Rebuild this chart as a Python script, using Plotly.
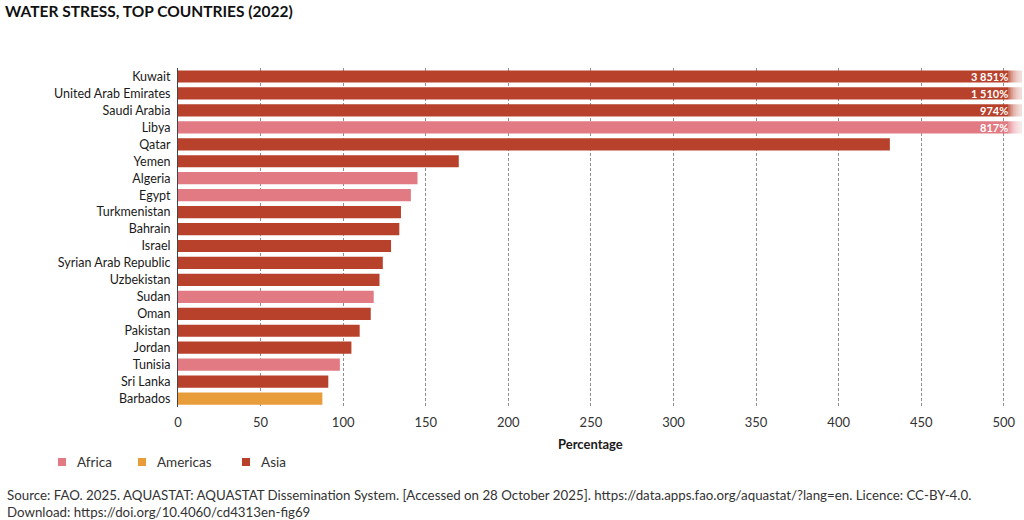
import plotly.graph_objects as go

# Data (values in %)
countries = ["Kuwait", "United Arab Emirates", "Saudi Arabia", "Libya", "Qatar", "Yemen",
             "Algeria", "Egypt", "Turkmenistan", "Bahrain", "Israel", "Syrian Arab Republic",
             "Uzbekistan", "Sudan", "Oman", "Pakistan", "Jordan", "Tunisia", "Sri Lanka", "Barbados"]
values = [3851, 1510, 974, 817, 431, 170, 145, 141, 135, 134, 129, 124,
          122, 118.5, 116.7, 110, 105, 98, 91, 87.4]
regions = ["Asia", "Asia", "Asia", "Africa", "Asia", "Asia", "Africa", "Africa", "Asia", "Asia",
           "Asia", "Asia", "Asia", "Africa", "Asia", "Asia", "Asia", "Africa", "Asia", "Americas"]
big_labels = ["3 851%", "1 510%", "974%", "817%"]
legend_names = ["Africa", "Americas", "Asia"]
ticks = [0, 50, 100, 150, 200, 250, 300, 350, 400, 450, 500]

colors = {"Africa": "#e17a82", "Americas": "#e99c3a", "Asia": "#b8412c"}
FONT = "Lato"

# plot area in pixels
L, R, T, B = 178, 1022, 68, 407
W, H = 1024, 520


def px(x):
    return (x - L) / (R - L)


def py(y):
    return (B - y) / (B - T)


fig = go.Figure()

for reg in legend_names:
    xs = [v for v, r in zip(values, regions) if r == reg]
    ys = [c for c, r in zip(countries, regions) if r == reg]
    fig.add_trace(go.Bar(
        x=xs, y=ys, orientation="h", name=reg,
        marker=dict(color=colors[reg], line=dict(width=0)),
        hoverinfo="x+y",
    ))

# value labels for the bars running off the scale
for c, lab in zip(countries[:4], big_labels):
    fig.add_annotation(x=504, y=c, text="<b>" + lab + "</b>", showarrow=False,
                       xanchor="right", font=dict(color="white", size=11, family=FONT))

# fade the bars out at the right edge
n = 8
for i in range(n):
    fig.add_shape(type="rect", xref="paper", yref="paper",
                  x0=px(1008 + i * 13 / n), x1=1.0, y0=0, y1=1,
                  fillcolor="white", opacity=0.2, line=dict(width=0), layer="above")

fig.add_annotation(x=250, xref="x", y=py(444), yref="paper", text="<b>Percentage</b>",
                   showarrow=False, yanchor="middle", font=dict(size=13, color="#1a1a1a", family=FONT))

# legend drawn by hand to match the tight spacing
leg_x = [58, 138, 242]
for name, x0 in zip(legend_names, leg_x):
    fig.add_shape(type="rect", xref="paper", yref="paper",
                  x0=px(x0), x1=px(x0 + 8), y0=py(466), y1=py(458),
                  fillcolor=colors[name], line=dict(width=0))
    fig.add_annotation(x=px(x0 + 17), xref="paper", y=py(462), yref="paper", text=name,
                       showarrow=False, xanchor="left", yanchor="middle",
                       font=dict(size=13.5, color="#333333", family=FONT))

fig.add_annotation(x=px(5), xref="paper", y=py(485), yref="paper", xanchor="left", yanchor="top",
                   align="left", showarrow=False,
                   text="Source: FAO. 2025. AQUASTAT: AQUASTAT Dissemination System. [Accessed on 28 October 2025]. "
                        "https://data.apps.fao.org/aquastat/?lang=en. Licence: CC-BY-4.0.<br>"
                        "Download: https://doi.org/10.4060/cd4313en-fig69",
                   font=dict(size=13.3, color="#333333", family=FONT))

fig.update_layout(
    width=W, height=H,
    margin=dict(l=L, r=W - R, t=T, b=H - B, autoexpand=False),
    paper_bgcolor="white", plot_bgcolor="white",
    barmode="relative", bargap=0.28, showlegend=False,
    font=dict(family=FONT, size=13, color="#1a1a1a"),
    title=dict(text="<b>WATER STRESS, TOP COUNTRIES (2022)</b>", x=5 / W, xanchor="left",
               xref="container", y=1 - 12 / H, yanchor="middle", yref="container",
               pad=dict(t=0, b=0, l=0, r=0),
               font=dict(size=15.5, color="#111111", family=FONT)),
    xaxis=dict(range=[0, 511], tickvals=ticks, showgrid=True, gridcolor="#8f8f8f",
               griddash="3px,2px", gridwidth=1, zeroline=False, showline=False, automargin=False,
               ticks="", ticklabelstandoff=6, tickfont=dict(size=13, color="#333333"),
               fixedrange=True),
    yaxis=dict(categoryorder="array", categoryarray=countries[::-1], showline=True,
               linecolor="#444444", linewidth=1, ticks="", ticklabelstandoff=4, automargin=False,
               tickfont=dict(size=12.5, color="#1a1a1a"), showgrid=False, fixedrange=True),
)

# drop the default page margin so the figure sits at the window's corner
fig.write_html("out.html", config={"displayModeBar": False},
               post_script="document.body.style.margin='0';")
